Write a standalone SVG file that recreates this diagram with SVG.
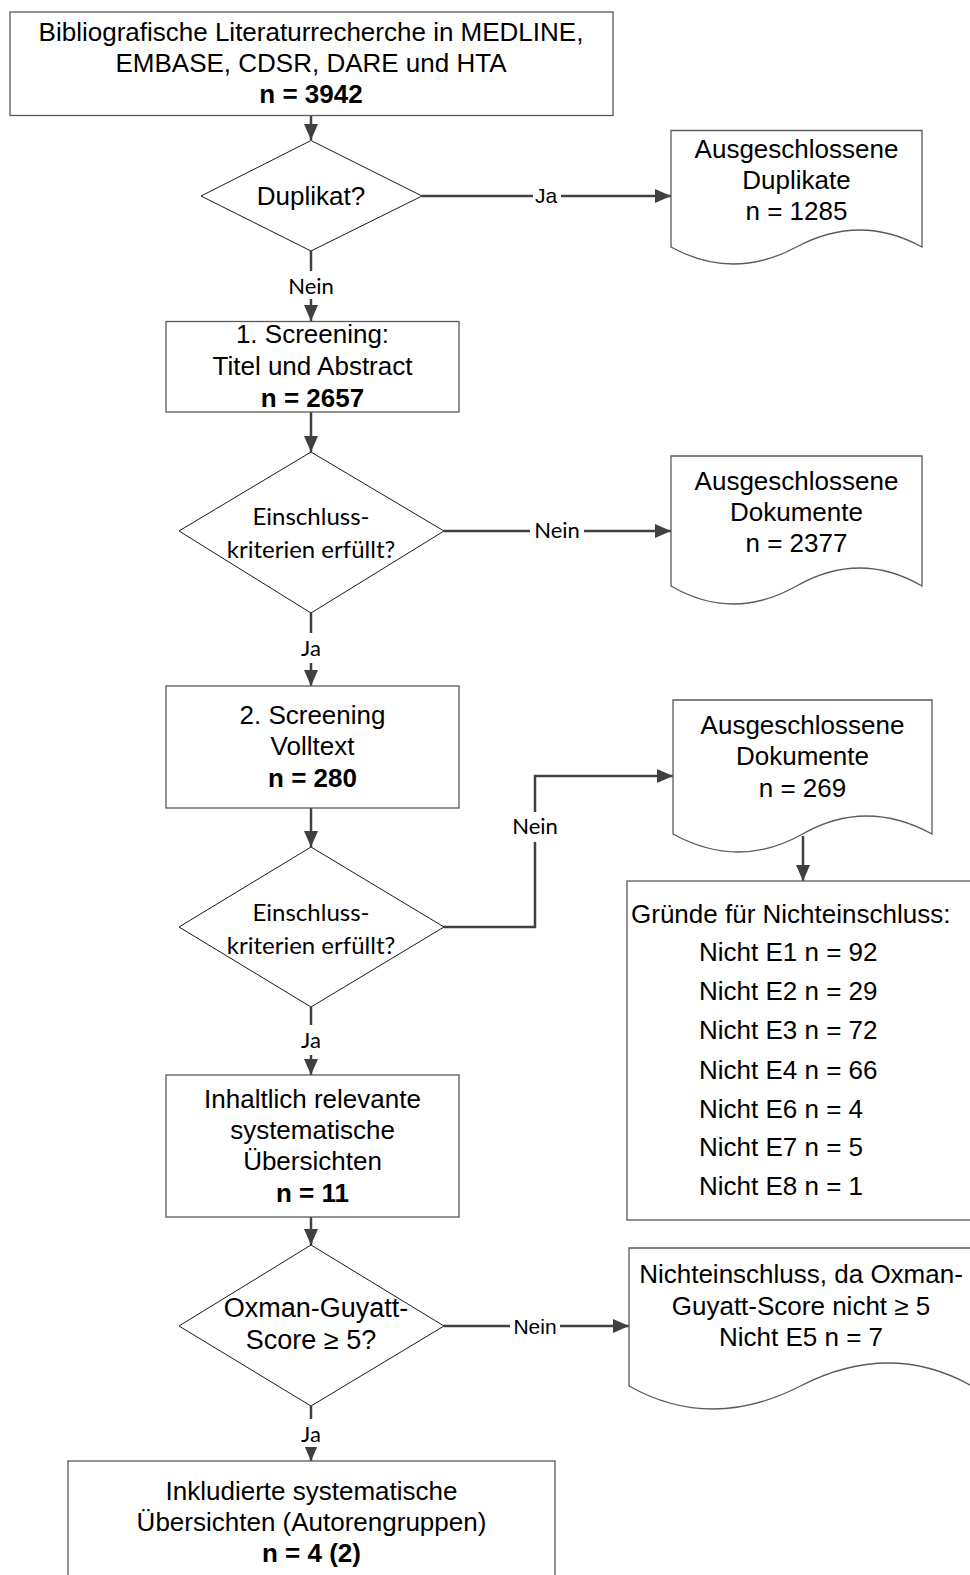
<svg xmlns="http://www.w3.org/2000/svg" width="970" height="1575" viewBox="0 0 970 1575">
<style>
.box{fill:#fff;stroke:#5a5a5a;stroke-width:1.3}
.dia{fill:#fff;stroke:#1a1a1a;stroke-width:1}
.doc{fill:#fff;stroke:#5a5a5a;stroke-width:1.3}
.t{font-family:"Liberation Sans",Arial,sans-serif;font-size:26px;fill:#000;text-anchor:middle}
.b{font-weight:bold}
.c{font-family:Lato,"Open Sans",sans-serif;font-size:24px;fill:#000;text-anchor:middle}
.lbl{font-family:Lato,"Open Sans",sans-serif;font-size:22px;fill:#000;text-anchor:middle}
.lbla{font-family:"Liberation Sans",Arial,sans-serif;font-size:21px;fill:#000;text-anchor:middle}
.con{fill:none;stroke:#404040;stroke-width:2.5}
.bg{fill:#fff}
</style>
<defs>
<marker id="ah" markerUnits="userSpaceOnUse" markerWidth="16" markerHeight="14" refX="16" refY="7" orient="auto">
<path d="M0,0 L16,7 L0,14 z" fill="#404040"/>
</marker>
</defs>
<rect width="970" height="1575" fill="#fff"/>

<g id="connectors">
<path class="con" d="M311,115.5 V140" marker-end="url(#ah)"/>
<path class="con" d="M422,196 H671" marker-end="url(#ah)"/>
<rect class="bg" x="533" y="184" width="28" height="24"/>
<text class="lbla" x="546" y="203">Ja</text>
<path class="con" d="M311,251 V321" marker-end="url(#ah)"/>
<rect class="bg" x="285" y="271" width="52" height="28"/>
<text class="lbl" x="311" y="294">Nein</text>
<path class="con" d="M311,412 V452" marker-end="url(#ah)"/>
<path class="con" d="M444,531 H671" marker-end="url(#ah)"/>
<rect class="bg" x="530" y="518" width="54" height="26"/>
<text class="lbl" x="557" y="538">Nein</text>
<path class="con" d="M311,613 V686" marker-end="url(#ah)"/>
<rect class="bg" x="295" y="633" width="32" height="30"/>
<text class="lbl" x="311" y="656">Ja</text>
<path class="con" d="M311,808 V847" marker-end="url(#ah)"/>
<path class="con" d="M444,927 H535 V776 H673" marker-end="url(#ah)"/>
<rect class="bg" x="507" y="812" width="56" height="30"/>
<text class="lbl" x="535" y="834">Nein</text>
<path class="con" d="M803,836 V881" marker-end="url(#ah)"/>
<path class="con" d="M311,1007 V1075" marker-end="url(#ah)"/>
<rect class="bg" x="295" y="1025" width="32" height="30"/>
<text class="lbl" x="311" y="1048">Ja</text>
<path class="con" d="M311,1217 V1245" marker-end="url(#ah)"/>
<path class="con" d="M444,1326 H629" marker-end="url(#ah)"/>
<rect class="bg" x="510" y="1313" width="50" height="26"/>
<text class="lbla" x="535" y="1334">Nein</text>
<path class="con" d="M311,1406 V1461" marker-end="url(#ah)"/>
<rect class="bg" x="295" y="1419" width="32" height="28"/>
<text class="lbl" x="311" y="1442">Ja</text>
</g>

<g id="n-recherche">
<rect class="box" x="10" y="12" width="603" height="103.5"/>
<text class="t" x="311" y="41">Bibliografische Literaturrecherche in MEDLINE,</text>
<text class="t" x="311" y="71.5">EMBASE, CDSR, DARE und HTA</text>
<text class="t b" x="311" y="102.5">n = 3942</text>
</g>

<g id="n-duplikat">
<polygon class="dia" points="311,140.5 422,196 311,251 201,196"/>
<text class="t" x="311" y="205">Duplikat?</text>
</g>

<g id="n-dup-excl">
<path class="doc" d="M671,130.5 H922 V247 Q860,213 796.5,247 T671,247 Z"/>
<text class="t" x="796.5" y="158">Ausgeschlossene</text>
<text class="t" x="796.5" y="189">Duplikate</text>
<text class="t" x="796.5" y="220">n = 1285</text>
</g>

<g id="n-screening1">
<rect class="box" x="166" y="321.5" width="293" height="90.5"/>
<text class="t" x="312.5" y="343">1. Screening:</text>
<text class="t" x="312.5" y="375">Titel und Abstract</text>
<text class="t b" x="312.5" y="407">n = 2657</text>
</g>

<g id="n-einschluss1">
<polygon class="dia" points="311,452 444,531 311,613 179,531"/>
<text class="c" x="311" y="525">Einschluss-</text>
<text class="c" x="311" y="558">kriterien erfüllt?</text>
</g>

<g id="n-dok-excl1">
<path class="doc" d="M671,456 H922 V586 Q860,550 796.5,586 T671,586 Z"/>
<text class="t" x="796.5" y="490">Ausgeschlossene</text>
<text class="t" x="796.5" y="521">Dokumente</text>
<text class="t" x="796.5" y="552">n = 2377</text>
</g>

<g id="n-screening2">
<rect class="box" x="166" y="686" width="293" height="122"/>
<text class="t" x="312.5" y="724">2. Screening</text>
<text class="t" x="312.5" y="755">Volltext</text>
<text class="t b" x="312.5" y="787">n = 280</text>
</g>

<g id="n-einschluss2">
<polygon class="dia" points="311,847 444,927 311,1007 179,927"/>
<text class="c" x="311" y="921">Einschluss-</text>
<text class="c" x="311" y="954">kriterien erfüllt?</text>
</g>

<g id="n-dok-excl2">
<path class="doc" d="M673,700 H932 V834 Q866,798 802.5,834 T673,834 Z"/>
<text class="t" x="802.5" y="734">Ausgeschlossene</text>
<text class="t" x="802.5" y="765">Dokumente</text>
<text class="t" x="802.5" y="797">n = 269</text>
</g>

<g id="n-gruende">
<rect class="box" x="627" y="881" width="360" height="339"/>
<text class="t" x="631" y="923" style="text-anchor:start">Gründe für Nichteinschluss:</text>
<text class="t" x="699" y="961" style="text-anchor:start">Nicht E1 n = 92</text>
<text class="t" x="699" y="1000" style="text-anchor:start">Nicht E2 n = 29</text>
<text class="t" x="699" y="1039" style="text-anchor:start">Nicht E3 n = 72</text>
<text class="t" x="699" y="1079" style="text-anchor:start">Nicht E4 n = 66</text>
<text class="t" x="699" y="1118" style="text-anchor:start">Nicht E6 n = 4</text>
<text class="t" x="699" y="1156" style="text-anchor:start">Nicht E7 n = 5</text>
<text class="t" x="699" y="1195" style="text-anchor:start">Nicht E8 n = 1</text>
</g>

<g id="n-relevant">
<rect class="box" x="166" y="1075" width="293" height="142"/>
<text class="t" x="312.5" y="1108">Inhaltlich relevante</text>
<text class="t" x="312.5" y="1139">systematische</text>
<text class="t" x="312.5" y="1170">Übersichten</text>
<text class="t b" x="312.5" y="1202">n = 11</text>
</g>

<g id="n-oxman">
<polygon class="dia" points="311,1245 444,1326 311,1406 179,1326"/>
<text class="t" x="316" y="1317" style="font-size:27px">Oxman-Guyatt-</text>
<text class="t" x="311" y="1349" style="font-size:27px">Score ≥ 5?</text>
</g>

<g id="n-oxman-excl">
<path class="doc" d="M629,1248 H972 V1386 Q890,1340 800.5,1386 T629,1386 Z"/>
<text class="t" x="801" y="1283">Nichteinschluss, da Oxman-</text>
<text class="t" x="801" y="1315">Guyatt-Score nicht ≥ 5</text>
<text class="t" x="801" y="1346">Nicht E5 n = 7</text>
</g>

<g id="n-inkludiert">
<rect class="box" x="68" y="1461" width="487" height="130"/>
<text class="t" x="311.5" y="1500">Inkludierte systematische</text>
<text class="t" x="311.5" y="1531">Übersichten (Autorengruppen)</text>
<text class="t b" x="311.5" y="1562">n = 4 (2)</text>
</g>
</svg>
